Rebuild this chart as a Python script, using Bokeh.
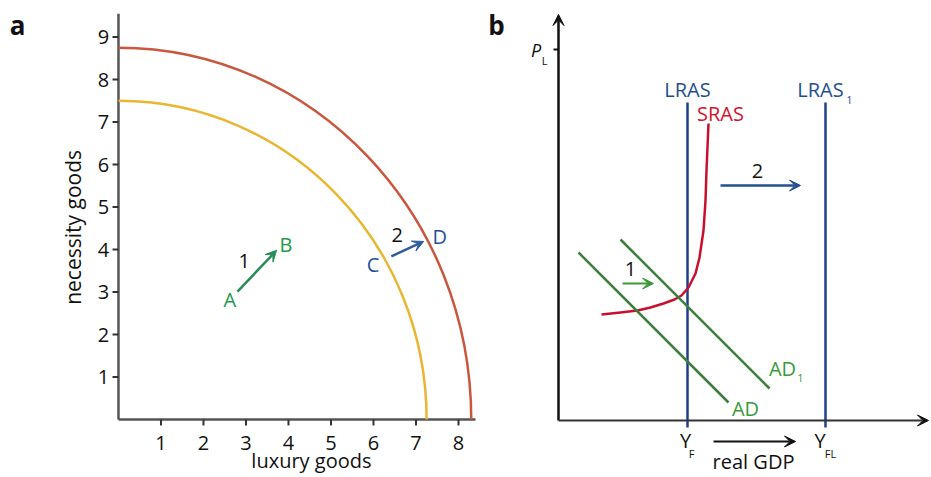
from bokeh.plotting import figure
from bokeh.models import Arrow, VeeHead, Range1d
from bokeh.embed import file_html
from bokeh.resources import INLINE
from bokeh.core.properties import value
import math

FONT = "Open Sans"
INK = "#111111"

# ------------------------------------------------------------------
# Panel a data: production possibility frontiers
# ------------------------------------------------------------------
x_ticks = [1, 2, 3, 4, 5, 6, 7, 8]
y_ticks = [1, 2, 3, 4, 5, 6, 7, 8, 9]
x_axis_end = 8.4
y_axis_end = 9.55

ppf_x0 = [0.0, 0.0]
ppf_y0 = [7.5, 8.75]
ppf_x1 = [7.25, 8.3]
ppf_y1 = [0.0, 0.0]
ppf_cx0 = [4.0, 4.58]
ppf_cy0 = [7.5, 8.75]
ppf_cx1 = [7.25, 8.3]
ppf_cy1 = [4.14, 4.83]
ppf_colors = ["#e8b630", "#c9573d"]

point_labels = ["A", "B", "C", "D"]
point_x = [2.62, 3.94, 5.99, 7.56]
point_y = [2.82, 4.12, 3.64, 4.31]
point_colors = ["#1d9a4c", "#1d9a4c", "#1f4f99", "#1f4f99"]

shift_labels = ["1", "2"]
shift_x = [2.96, 6.56]
shift_y = [3.74, 4.35]

move_x0 = [2.80, 6.42]
move_y0 = [3.01, 3.84]
move_x1 = [3.72, 7.18]
move_y1 = [3.98, 4.19]
move_colors = ["#2a8c5a", "#2d5c9c"]

# ------------------------------------------------------------------
# Panel b data: AD / AS model (real GDP vs price level, index units)
# ------------------------------------------------------------------
gdp_axis_end = 37.0
price_axis_end = 40.6
price_level_tick = 37.1

lras_x = [12.9, 26.7]
lras_top = [31.8, 31.8]
lras_bottom = [-0.7, -0.7]

sras_x = [4.3, 6.2, 7.9, 9.2, 10.5, 11.6, 12.3, 13.0, 13.7, 14.1, 14.5, 14.7, 14.8, 15.0]
sras_y = [10.6, 10.8, 11.0, 11.3, 11.7, 12.1, 12.5, 13.3, 14.7, 16.3, 19.0, 22.0, 25.0, 29.7]

ad_x0 = [2.0, 6.2]
ad_y0 = [16.8, 18.1]
ad_x1 = [17.0, 21.1]
ad_y1 = [1.8, 3.2]

shiftb_x0 = [6.4, 16.2, 15.5]
shiftb_y0 = [13.7, 23.5, -2.1]
shiftb_x1 = [9.5, 24.2, 23.7]
shiftb_y1 = [13.7, 23.5, -2.1]
shiftb_widths = [1.8, 2.5, 1.8]
shiftb_colors = ["#3a9a3a", "#24508f", INK]

b_text = ["LRAS", "LRAS", "SRAS", "AD", "AD", "1", "2", "Y", "Y", "real GDP"]
b_text_x = [12.9, 26.2, 16.2, 18.7, 22.4, 7.2, 19.9, 12.7, 26.15, 19.5]
b_text_y = [33.1, 33.1, 30.7, 1.2, 5.2, 15.2, 25.0, -2.0, -2.0, -4.05]
b_text_colors = ["#1f4e8f", "#1f4e8f", "#d0142c", "#3a9a3a", "#3a9a3a",
                 INK, INK, INK, INK, INK]

b_sub = ["1", "1", "F", "FL", "L"]
b_sub_x = [29.1, 24.2, 13.3, 27.2, -1.4]
b_sub_y = [32.1, 4.3, -3.3, -3.3, 36.0]
b_sub_colors = ["#1f4e8f", "#3a9a3a", INK, INK, INK]

# ------------------------------------------------------------------
# One canvas, two coordinate systems (default = panel a, "b" = panel b)
# ------------------------------------------------------------------
p = figure(width=930, height=476, title=None,
           x_range=Range1d(-2.776, 19.106), y_range=Range1d(-1.341, 9.859),
           x_axis_type=None, y_axis_type=None, min_border=0,
           output_backend="svg", toolbar_location=None)
p.extra_x_ranges = {"b": Range1d(-55.8, 37.2)}
p.extra_y_ranges = {"b": Range1d(-5.6, 42.0)}
p.outline_line_color = None
p.background_fill_color = "white"

B = dict(x_range_name="b", y_range_name="b")

# ---------------- panel a: axes ----------------
p.segment(x0=[0, 0], y0=[0, 0], x1=[0, x_axis_end], y1=[y_axis_end, 0],
          line_color="#555555", line_width=2.5)
p.segment(x0=x_ticks, y0=[0] * len(x_ticks), x1=x_ticks, y1=[-0.14] * len(x_ticks),
          line_color="#333333", line_width=2)
p.segment(x0=[0] * len(y_ticks), y0=y_ticks, x1=[-0.14] * len(y_ticks), y1=y_ticks,
          line_color="#333333", line_width=2)
p.text(x=x_ticks, y=[-0.56] * len(x_ticks), text=[str(t) for t in x_ticks],
       text_color=INK, text_font=value(FONT), text_font_size="20px",
       text_align="center", text_baseline="middle")
p.text(x=[-0.22] * len(y_ticks), y=y_ticks, text=[str(t) for t in y_ticks],
       text_color=INK, text_font=value(FONT), text_font_size="20px",
       text_align="right", text_baseline="middle")
p.text(x=[4.54], y=[-0.975], text=["luxury goods"], text_color=INK,
       text_font=value(FONT), text_font_size="20px", text_align="center",
       text_baseline="middle")
p.text(x=[-1.06], y=[4.52], text=["necessity goods"], text_color=INK, angle=math.pi / 2,
       text_font=value(FONT), text_font_size="21px", text_align="center",
       text_baseline="middle")
p.text(x=[-2.376], y=[9.294], text=["a"], text_color=INK, text_font=value(FONT),
       text_font_size="26px", text_font_style="bold", text_align="center",
       text_baseline="middle")

# ---------------- panel a: curves, moves, labels ----------------
p.bezier(x0=ppf_x0, y0=ppf_y0, x1=ppf_x1, y1=ppf_y1, cx0=ppf_cx0, cy0=ppf_cy0,
         cx1=ppf_cx1, cy1=ppf_cy1, line_color=ppf_colors, line_width=2.5)

for i in range(len(move_x0)):
    p.add_layout(Arrow(x_start=move_x0[i], y_start=move_y0[i], x_end=move_x1[i], y_end=move_y1[i],
                       line_color=move_colors[i], line_width=2.5,
                       end=VeeHead(size=11, fill_color=move_colors[i], line_color=move_colors[i])))

p.text(x=point_x, y=point_y, text=point_labels, text_color=point_colors,
       text_font=value(FONT), text_font_size="20px", text_align="center", text_baseline="middle")
p.text(x=shift_x, y=shift_y, text=shift_labels, text_color=INK,
       text_font=value(FONT), text_font_size="20px", text_align="center", text_baseline="middle")

# ---------------- panel b ----------------
p.add_layout(Arrow(x_start=0, y_start=0, x_end=0, y_end=price_axis_end, line_color=INK,
                   line_width=2.5, end=VeeHead(size=11, fill_color=INK, line_color=INK), **B))
p.add_layout(Arrow(x_start=0, y_start=0, x_end=gdp_axis_end, y_end=0, line_color="#333333",
                   line_width=2, end=VeeHead(size=11, fill_color=INK, line_color=INK), **B))
p.segment(x0=[-0.5], y0=[price_level_tick], x1=[0], y1=[price_level_tick],
          line_color=INK, line_width=2, **B)

p.segment(x0=lras_x, y0=lras_bottom, x1=lras_x, y1=lras_top, line_color="#1f3f8a",
          line_width=2.5, **B)
p.line(x=sras_x, y=sras_y, line_color="#c8102e", line_width=2.5, line_join="round", **B)
p.segment(x0=ad_x0, y0=ad_y0, x1=ad_x1, y1=ad_y1, line_color="#3b7f3b", line_width=2.5, **B)

for i in range(len(shiftb_x0)):
    p.add_layout(Arrow(x_start=shiftb_x0[i], y_start=shiftb_y0[i], x_end=shiftb_x1[i],
                       y_end=shiftb_y1[i], line_color=shiftb_colors[i], line_width=shiftb_widths[i],
                       end=VeeHead(size=11, fill_color=shiftb_colors[i], line_color=shiftb_colors[i]),
                       **B))

p.text(x=b_text_x, y=b_text_y, text=b_text, text_color=b_text_colors,
       text_font=value(FONT), text_font_size="20px", text_align="center",
       text_baseline="middle", **B)
p.text(x=b_sub_x, y=b_sub_y, text=b_sub, text_color=b_sub_colors,
       text_font=value(FONT), text_font_size="11px", text_align="center",
       text_baseline="middle", **B)
p.text(x=[-2.25], y=[37.1], text=["P"], text_color=INK, text_font=value(FONT),
       text_font_size="18px", text_font_style="italic", text_align="center",
       text_baseline="middle", **B)
p.text(x=[-6.2], y=[39.6], text=["b"], text_color=INK, text_font=value(FONT),
       text_font_size="26px", text_font_style="bold", text_align="center",
       text_baseline="middle", **B)

open("out.html", "w").write(file_html(p, INLINE))
